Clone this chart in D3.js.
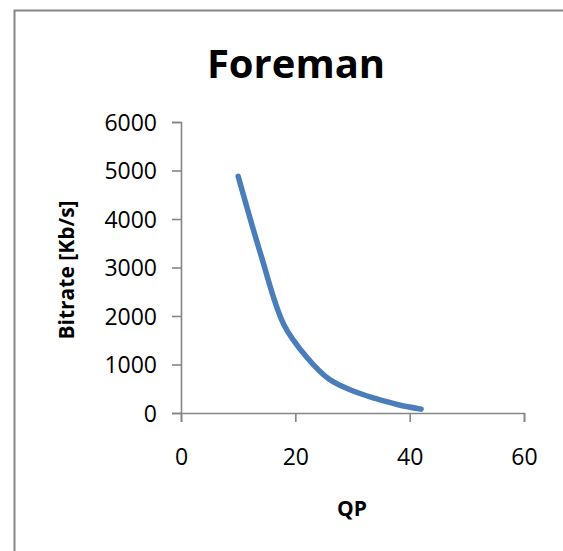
<!DOCTYPE html>
<html>
<head>
<meta charset="utf-8">
<script src="https://cdn.jsdelivr.net/npm/d3@7"></script>
<style>
  html, body { margin: 0; padding: 0; background: #fff; }
  svg { display: block; }
  text { font-family: "Open Sans", sans-serif; fill: #000; }
</style>
</head>
<body>
<svg id="chart" width="563" height="551"></svg>
<script>
// Data
const qp      = [10, 14, 18, 22, 26, 30, 34, 38, 42];
const bitrate = [4880, 3250, 1820, 1150, 690, 460, 300, 170, 80];
const xTicks  = [0, 20, 40, 60];
const yTicks  = [0, 1000, 2000, 3000, 4000, 5000, 6000];
const title   = "Foreman";
const xLabel  = "QP";
const yLabel  = "Bitrate [Kb/s]";

const svg = d3.select("#chart");
const axisColor = "#868686";

// Chart-area border (extends past the window on right/bottom)
svg.append("rect")
  .attr("x", 14.5).attr("y", 10.5)
  .attr("width", 700).attr("height", 700)
  .attr("fill", "none")
  .attr("stroke", axisColor)
  .attr("stroke-width", 2);

const x = d3.scaleLinear().domain([0, 60]).range([181, 524]);
const y = d3.scaleLinear().domain([0, 6000]).range([413, 122]);

// Y axis
const yAxis = svg.append("g")
  .attr("transform", `translate(${x(0)},0)`)
  .call(d3.axisLeft(y).tickValues(yTicks).tickSize(9).tickPadding(0).tickFormat(d3.format("d")));
yAxis.select(".domain").attr("stroke", axisColor).attr("stroke-width", 1.6);
yAxis.selectAll(".tick line").attr("stroke", axisColor).attr("stroke-width", 1.6);
yAxis.selectAll(".tick text")
  .attr("x", -24).attr("dy", null).attr("y", 8)
  .attr("text-anchor", "end")
  .style("font-size", "23px").style("font-family", "'Open Sans', sans-serif").attr("fill", "#000");

// X axis
const xAxis = svg.append("g")
  .attr("transform", `translate(0,${y(0)})`)
  .call(d3.axisBottom(x).tickValues(xTicks).tickSize(9).tickPadding(0).tickFormat(d3.format("d")));
xAxis.select(".domain").attr("stroke", axisColor).attr("stroke-width", 1.6);
xAxis.selectAll(".tick line").attr("stroke", axisColor).attr("stroke-width", 1.6);
xAxis.selectAll(".tick text")
  .attr("y", 52).attr("dy", null)
  .attr("text-anchor", "middle")
  .style("font-size", "23px").style("font-family", "'Open Sans', sans-serif").attr("fill", "#000");

// Series line
const pts = qp.map((q, i) => [q, bitrate[i]]);
const line = d3.line()
  .x(d => x(d[0]))
  .y(d => y(d[1]))
  .curve(d3.curveCatmullRom.alpha(0.5));
svg.append("path")
  .datum(pts)
  .attr("d", line)
  .attr("fill", "none")
  .attr("stroke", "#4A7EBB")
  .attr("stroke-width", 5.5)
  .attr("stroke-linecap", "round")
  .attr("stroke-linejoin", "round");

// Title
svg.append("text")
  .attr("x", 296).attr("y", 78)
  .attr("text-anchor", "middle")
  .style("font-size", "40px").style("font-weight", "bold")
  .text(title);

// X label
svg.append("text")
  .attr("x", 352).attr("y", 516)
  .attr("text-anchor", "middle")
  .style("font-size", "21px").style("font-weight", "bold")
  .text(xLabel);

// Y label
svg.append("text")
  .attr("transform", "translate(74,270) rotate(-90)")
  .attr("text-anchor", "middle")
  .style("font-size", "21px").style("font-weight", "bold")
  .text(yLabel);
</script>
</body>
</html>
